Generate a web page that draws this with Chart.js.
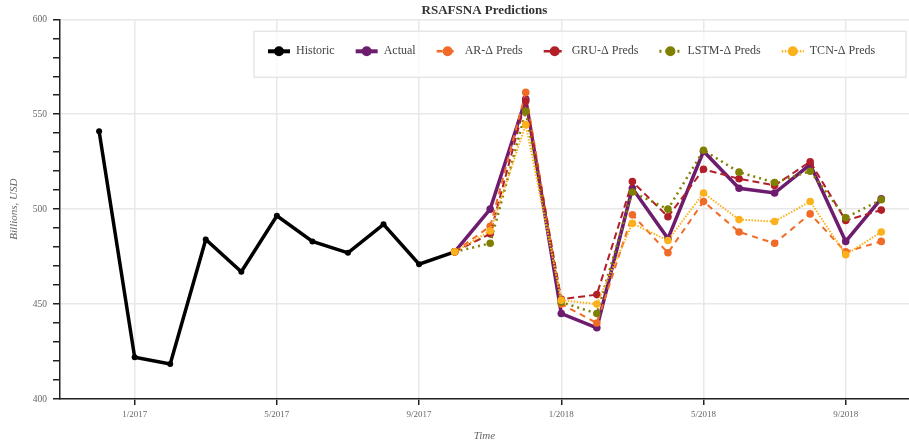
<!DOCTYPE html>
<html>
<head>
<meta charset="utf-8">
<script src="https://cdn.jsdelivr.net/npm/chart.js@4.4.0/dist/chart.umd.min.js"></script>
<style>
  html, body { margin: 0; padding: 0; background: #fff; }
  #wrap { width: 909px; height: 445px; }
</style>
</head>
<body>
<div id="wrap"><canvas id="rsafsna-line"></canvas></div>
<script>
// months on the x axis, 1/2017 sits at x = 0
const months = [
  "12/2016",
  "1/2017", "2/2017", "3/2017", "4/2017", "5/2017", "6/2017",
  "7/2017", "8/2017", "9/2017", "10/2017", "11/2017", "12/2017",
  "1/2018", "2/2018", "3/2018", "4/2018", "5/2018", "6/2018",
  "7/2018", "8/2018", "9/2018", "10/2018",
];
const histMonths = months.slice(0, 11);
const predMonths = months.slice(10);

const historic = [541, 422, 418.5, 484, 467, 496.5, 483, 477, 492, 471, 477.5];
const actual = [477.5, 500, 558, 445, 437.5, 511, 484.5, 530.5, 511, 508.5, 523.5, 483, 505.5];
const arPreds = [477.5, 491, 561.5, 450, 440, 497, 477, 504, 488, 482, 497.5, 477.5, 483];
const gruPreds = [477.5, 487, 557, 452.5, 455, 514.5, 496, 521, 516, 512.5, 525, 494, 499.5];
const lstmPreds = [477.5, 482, 551.5, 451, 445, 509, 500, 531, 519.5, 514, 520, 495.5, 505];
const tcnPreds = [477.5, 488.5, 544.5, 452, 450, 492.5, 483.5, 508.5, 494.5, 493.5, 504, 476, 488];

const yLabelStep = 50;
const serif = '"Liberation Serif", "DejaVu Serif", serif';

const monthX = (m) => months.indexOf(m) - 1;
const toPoints = (labels, values) => values.map((v, i) => ({ x: monthX(labels[i]), y: v }));

// later series are painted on top, like the original
const series = (label, labels, values, color, width, dash, radius, order) => ({
  label: label,
  data: toPoints(labels, values),
  order: order,
  borderColor: color,
  backgroundColor: color,
  pointBackgroundColor: color,
  pointBorderColor: color,
  pointBorderWidth: 0,
  borderWidth: width,
  borderDash: dash,
  pointRadius: radius,
  pointHoverRadius: radius,
  fill: false,
  tension: 0,
});

// legend drawn as a framed box inside the plot
const boxLegend = {
  id: "boxLegend",
  afterDraw(chart) {
    const { ctx, chartArea } = chart;
    const left = chartArea.left + 194;
    const top = chartArea.top + 12;
    const right = chartArea.right - 3;
    const bottom = chartArea.top + 58;
    ctx.save();
    ctx.fillStyle = "rgba(255,255,255,0.7)";
    ctx.fillRect(left, top, right - left, bottom - top);
    ctx.strokeStyle = "#e6e6e6";
    ctx.lineWidth = 1.5;
    ctx.strokeRect(left, top, right - left, bottom - top);
    ctx.font = "12px " + serif;
    ctx.textBaseline = "middle";
    let x = left + 14;
    const y = top + 20;
    chart.data.datasets.forEach((ds) => {
      ctx.strokeStyle = ds.borderColor;
      ctx.lineWidth = Math.min(ds.borderWidth + 0.5, 4);
      ctx.setLineDash(ds.borderDash || []);
      ctx.beginPath();
      ctx.moveTo(x, y);
      ctx.lineTo(x + 22, y);
      ctx.stroke();
      ctx.setLineDash([]);
      ctx.fillStyle = ds.pointBackgroundColor;
      ctx.beginPath();
      ctx.arc(x + 11, y, 5, 0, Math.PI * 2);
      ctx.fill();
      ctx.fillStyle = "#444";
      ctx.fillText(ds.label, x + 28, y);
      x += 28 + ctx.measureText(ds.label).width + 21;
    });
    ctx.restore();
  },
};

const ctx = document.getElementById("rsafsna-line").getContext("2d");
const chart = new Chart(ctx, {
  type: "line",
  data: {
    datasets: [
      series("Historic", histMonths, historic, "#000000", 3.5, [], 3, 5),
      series("Actual", predMonths, actual, "#6e1d6e", 3.5, [], 3.8, 4),
      series("AR-\u0394 Preds", predMonths, arPreds, "#f06b28", 2, [6, 5], 3.8, 3),
      series("GRU-\u0394 Preds", predMonths, gruPreds, "#b21f28", 2, [7, 4], 3.8, 2),
      series("LSTM-\u0394 Preds", predMonths, lstmPreds, "#7f7f00", 2.5, [2, 4], 3.8, 1),
      series("TCN-\u0394 Preds", predMonths, tcnPreds, "#fbb11c", 2, [1.5, 1.5], 3.8, 0),
    ],
  },
  options: {
    responsive: true,
    maintainAspectRatio: false,
    animation: false,
    layout: { padding: 0, autoPadding: false },
    plugins: {
      legend: { display: false },
      tooltip: { enabled: false },
      title: {
        display: true,
        text: "RSAFSNA Predictions",
        fullSize: false,
        color: "#333",
        font: { family: serif, size: 13, weight: "bold" },
        padding: { top: 3, bottom: 0.7 },
      },
    },
    scales: {
      x: {
        type: "linear",
        min: -2.1,
        max: 21.78,
        afterFit: (scale) => { scale.height = 46; },
        afterBuildTicks: (scale) => {
          scale.ticks = scale.ticks.filter((t) => Number.isInteger(t.value));
        },
        border: { color: "#222", width: 1.5 },
        grid: {
          color: "#e8e8e8",
          lineWidth: 1.5,
          tickColor: "#222",
          tickLength: 6,
        },
        ticks: {
          stepSize: 4,
          color: "#666",
          padding: 4,
          maxRotation: 0,
          font: { family: serif, size: 9 },
          callback: (v) => months[v + 1],
        },
        title: {
          display: true,
          text: "Time",
          color: "#666",
          font: { family: serif, size: 11, style: "italic" },
          padding: { top: 0, bottom: 2 },
        },
      },
      y: {
        min: 400,
        max: 600,
        afterFit: (scale) => { scale.width = 60; },
        border: { color: "#222", width: 1.5 },
        grid: {
          color: (c) => (c.tick && c.tick.value % yLabelStep === 0 ? "#e8e8e8" : "rgba(0,0,0,0)"),
          lineWidth: 1.5,
          tickColor: "#222",
          tickLength: 7,
        },
        ticks: {
          stepSize: 10,
          autoSkip: false,
          color: "#666",
          padding: 6,
          font: { family: serif, size: 9.5 },
          callback: (v) => (v % yLabelStep === 0 ? v : ""),
        },
        title: {
          display: true,
          text: "Billions, USD",
          color: "#666",
          font: { family: serif, size: 11, style: "italic" },
          padding: { top: 8, bottom: 0 },
        },
      },
    },
  },
  plugins: [boxLegend],
});
</script>
</body>
</html>
